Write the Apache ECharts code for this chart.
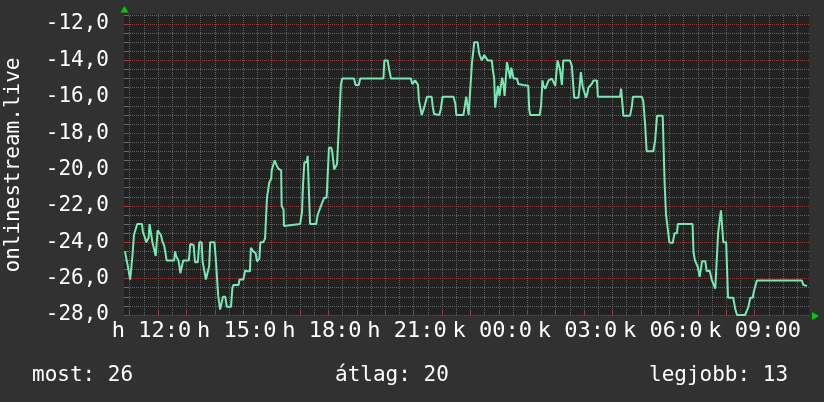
<!DOCTYPE html>
<html>
<head>
<meta charset="utf-8">
<script src="https://cdn.jsdelivr.net/npm/echarts@6/dist/echarts.min.js"></script>
<style>
html,body{margin:0;padding:0;background:#313131;}
#chart{width:824px;height:402px;}
</style>
</head>
<body>
<div id="chart"></div>
<script>
// time in minutes since midnight of the first day
const times = [650,656,659,661,663,666,669,673,676,686,688,691,695,697,700,702,705,708,712,715,718,719,723,726,729,733,735,738,754,756,758,763,765,767,770,773,785,788,791,795,798,804,807,812,814,818,821,825,828,830,839,842,845,847,851,855,857,862,865,874,877,879,890,892,900,904,907,909,914,916,919,921,926,929,932,934,936,942,946,950,953,955,959,960,964,966,969,971,974,978,980,981,985,986,990,1020,1024,1026,1029,1034,1036,1039,1041,1054,1057,1061,1064,1067,1071,1076,1080,1081,1086,1088,1092,1095,1098,1101,1103,1106,1109,1134,1137,1144,1147,1196,1198,1205,1208,1210,1212,1254,1257,1261,1263,1267,1269,1271,1275,1277,1279,1282,1286,1288,1298,1300,1303,1307,1314,1317,1321,1344,1348,1350,1365,1369,1371,1374,1376,1379,1383,1385,1388,1395,1398,1400,1404,1407,1409,1413,1416,1425,1427,1430,1432,1436,1438,1441,1444,1447,1450,1452,1455,1457,1460,1464,1466,1469,1471,1474,1478,1481,1491,1494,1502,1504,1506,1526,1529,1532,1534,1538,1541,1545,1552,1555,1559,1561,1564,1567,1569,1573,1576,1590,1594,1596,1599,1608,1610,1613,1615,1617,1621,1624,1627,1629,1633,1636,1640,1647,1649,1696,1698,1701,1703,1717,1721,1723,1742,1745,1749,1752,1766,1770,1772,1774,1786,1788,1790,1793,1796,1800,1807,1811,1816,1818,1849,1851,1854,1857,1860,1864,1867,1869,1876,1879,1885,1890,1893,1897,1900,1903,1906,1909,1912,1914,1920,1924,1935,1939,1943,1960,1964,1967,1971,1976,1979,1982,1985,2080,2083,2091];
const values = [-24.5,-25.3,-25.4,-26.05,-26.05,-24.7,-23.6,-23.6,-23,-23,-23.45,-23.65,-24,-23.95,-23.75,-23,-23,-24,-24,-24.75,-24.75,-23.35,-23.35,-23.6,-23.95,-24.2,-24.5,-25,-25,-24.5,-24.75,-25,-25.3,-25.7,-25.7,-25,-25,-24.1,-24,-24.15,-25.1,-25.1,-24,-24,-25.05,-25.1,-26.05,-26,-25.3,-24,-24,-24.95,-24.95,-26.95,-27.7,-27.7,-27,-27,-27.55,-27.55,-26.5,-26.35,-26.35,-26.05,-26.05,-25.55,-25.55,-25.6,-25.6,-24.3,-24.3,-24.5,-24.6,-25.05,-25,-24.9,-24,-24,-23.8,-21.55,-21.5,-20.7,-20.5,-20.05,-20,-19.5,-19.45,-19.8,-19.95,-20,-20.05,-22,-22.2,-23.1,-23,-23,-22.35,-20.9,-19.6,-19.6,-19.25,-19.25,-23,-23,-22.5,-22.4,-22,-21.9,-21.55,-21.55,-21.45,-18.8,-18.8,-19.05,-20,-20,-19.7,-19.7,-17.05,-15.35,-15,-15,-15.35,-15.35,-15,-15,-14,-14,-14.5,-14.75,-15,-15,-15.3,-15.3,-15.1,-15,-15.35,-16.2,-16.25,-17,-17,-16.6,-16.55,-16,-16,-16.5,-16.95,-17,-17,-16.7,-16,-16,-16.4,-17,-17,-16.9,-16,-16,-17,-17,-14.15,-14.05,-13,-13,-13.6,-13.75,-14,-14,-13.7,-13.75,-14,-14,-14.5,-15,-16.6,-16.55,-15.4,-15.95,-16.05,-14.95,-15.4,-15.95,-14.8,-14.1,-14.15,-15,-14.4,-14.3,-15,-15.1,-15,-15.3,-15.35,-15.4,-15.4,-16.7,-17,-17,-16.5,-15.1,-15.4,-15.55,-15.55,-15.1,-15,-15,-15.4,-14.8,-14,-14.05,-14.5,-15.35,-14,-14,-14.3,-14.35,-16.05,-16.05,-15.6,-14.65,-14.65,-15.45,-15.5,-16.05,-15.8,-15.5,-15.4,-15.3,-15.1,-15.1,-16,-16,-15.55,-15.55,-17.05,-17.05,-16.5,-16,-16,-16.25,-17.6,-19,-19,-18.4,-18.35,-17.05,-17.05,-18.9,-20.75,-22.5,-22.55,-24,-24.05,-23.5,-23.5,-23,-23,-24.55,-25,-25.05,-25.35,-25.9,-25.9,-25.05,-25.05,-25.6,-25.55,-26.1,-26.1,-26.55,-26.55,-23.5,-23.45,-22.25,-22.35,-24,-24,-27.05,-27.05,-27.65,-28,-28,-27.75,-27.55,-27.05,-27.05,-26.65,-26.55,-26.1,-26.1,-26.35,-26.4];

const xMin = 648, xMax = 2095;         // 10:48 .. 10:55 next day
const yMin = -28, yMax = -11.45;
const xLabelTicks = [720, 900, 1080, 1260, 1440, 1620, 1800, 1980];
const xLabels = ['h 12:00', 'h 15:00', 'h 18:00', 'h 21:00', 'k 00:00', 'k 03:00', 'k 06:00', 'k 09:00'];
const yMajorTicks = [-28, -26, -24, -22, -20, -18, -16, -14, -12];
const yAxisTitle = 'onlinestream.live';
const footerTexts = ['most: 26', 'átlag: 20', 'legjobb: 13'];

const halfHourTicks = [];
for (let m = 660; m < xMax; m += 30) halfHourTicks.push(m);
const hourTicks = halfHourTicks.filter(m => m % 60 === 0);
const yMinorTicks = [];
for (let v = yMin + 0.5; v < yMax; v += 0.5) if (Math.abs(v % 2) > 1e-9) yMinorTicks.push(v);

const FONT = "'DejaVu Sans Mono', monospace";
const GREY = '#616161', RED = '#8c3c3c', TICKRED = '#b03434';

const baseX = {type: 'value', min: xMin, max: xMax, position: 'bottom'};
const xAxes = [
  Object.assign({}, baseX, {
    axisLine: {show: false, onZero: false},
    axisTick: {show: false, customValues: halfHourTicks},
    axisLabel: {show: false},
    splitLine: {show: true, lineStyle: {color: GREY, type: [1, 1], width: 1}}
  }),
  Object.assign({}, baseX, {
    axisLine: {show: false, onZero: false},
    axisTick: {show: true, inside: true, length: 4, customValues: hourTicks, lineStyle: {color: TICKRED, width: 1}},
    axisLabel: {show: false},
    splitLine: {show: false}
  })
];
// one axis per time label so that each later label is painted over the previous one
xLabelTicks.forEach((tv, i) => {
  xAxes.push(Object.assign({}, baseX, {
    axisLine: {show: false, onZero: false},
    axisTick: {show: false, customValues: [tv]},
    splitLine: {show: false},
    axisLabel: {
      customValues: [tv], showMinLabel: true, showMaxLabel: true,
      color: '#ffffff', fontFamily: FONT, fontSize: 22, margin: 5,
      lineHeight: 22, backgroundColor: '#313131', padding: [0, 5, 0, 5],
      formatter: () => xLabels[i]
    },
    z: 10 + i
  }));
});

const chart = echarts.init(document.getElementById('chart'), null, {renderer: 'canvas'});
chart.setOption({
  backgroundColor: '#313131',
  animation: false,
  grid: {left: 124, right: 15, top: 14, bottom: 87, show: true, backgroundColor: '#222222', borderWidth: 0},
  xAxis: xAxes,
  yAxis: [{
    type: 'value', min: yMin, max: yMax,
    axisLine: {show: false},
    axisTick: {show: true, inside: true, length: 5, customValues: yMinorTicks, lineStyle: {color: '#6a6a6a'}},
    axisLabel: {show: false},
    splitLine: {show: true, lineStyle: {color: GREY, type: [1, 1], width: 1}}
  }, {
    type: 'value', min: yMin, max: yMax, position: 'left',
    axisLine: {show: false},
    axisTick: {show: true, inside: true, length: 5, customValues: yMajorTicks, lineStyle: {color: TICKRED}},
    axisLabel: {
      customValues: yMajorTicks, showMinLabel: true, showMaxLabel: true,
      color: '#ffffff', fontFamily: FONT, fontSize: 21, margin: 15,
      formatter: v => v.toFixed(1).replace('.', ',')
    },
    splitLine: {show: true, lineStyle: {color: RED, type: [1, 1], width: 1}}
  }],
  graphic: [
    {type: 'text', x: 14, y: 165, rotation: Math.PI / 2,
     style: {text: yAxisTitle, font: "21px " + FONT, fill: '#ffffff', align: 'center', verticalAlign: 'middle'}},
    {type: 'text', x: 32, y: 376, style: {text: footerTexts[0], font: "21px " + FONT, fill: '#ffffff', align: 'left', verticalAlign: 'middle'}},
    {type: 'text', x: 335, y: 376, style: {text: footerTexts[1], font: "21px " + FONT, fill: '#ffffff', align: 'left', verticalAlign: 'middle'}},
    {type: 'text', x: 649, y: 376, style: {text: footerTexts[2], font: "21px " + FONT, fill: '#ffffff', align: 'left', verticalAlign: 'middle'}},
    {type: 'polygon', shape: {points: [[120.5, 12.5], [128.5, 12.5], [124.5, 6]]}, style: {fill: '#00cc00'}},
    {type: 'polygon', shape: {points: [[812, 312], [812, 320], [819, 316]]}, style: {fill: '#00cc00'}}
  ],
  series: [{
    type: 'line', xAxisIndex: 0, yAxisIndex: 0,
    data: times.map((t, i) => [t, values[i]]),
    showSymbol: false, symbol: 'none', clip: true,
    lineStyle: {color: '#78e8b4', width: 2},
    z: 5
  }]
});
</script>
</body>
</html>
